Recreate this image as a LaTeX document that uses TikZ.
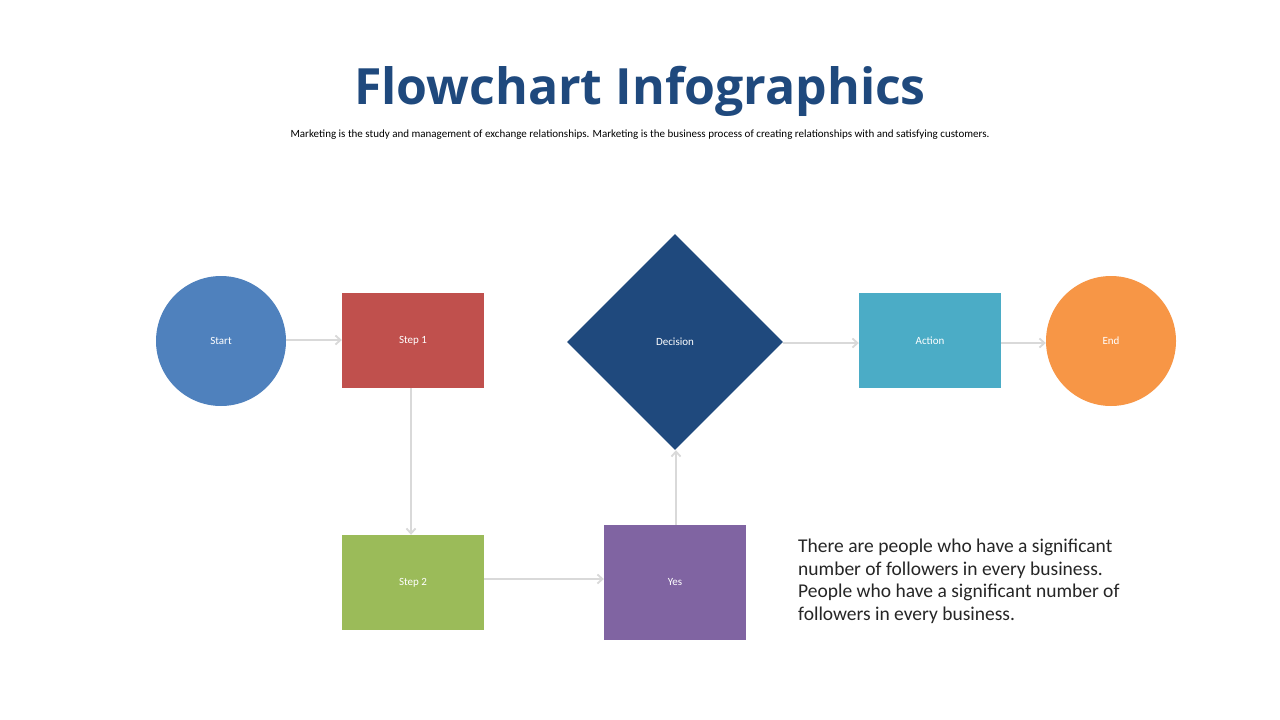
\documentclass[tikz,border=0pt]{standalone}
\usepackage{fontspec}
\setmainfont{Carlito}
\newfontfamily\titlefont{Open Sans}
\usetikzlibrary{shapes.geometric,arrows.meta}
\definecolor{cStart}{HTML}{4F81BD}
\definecolor{cStep1}{HTML}{C0504D}
\definecolor{cDec}{HTML}{1F497D}
\definecolor{cAct}{HTML}{4BACC6}
\definecolor{cEnd}{HTML}{F79646}
\definecolor{cStep2}{HTML}{9BBB59}
\definecolor{cYes}{HTML}{8064A2}
\definecolor{cLine}{HTML}{D9D9D9}
\begin{document}
\begin{tikzpicture}[x=1pt,y=-1pt,
  lbl/.style={text=white,font=\fontsize{11}{13}\selectfont},
  circ/.style={circle,minimum size=130pt,inner sep=0pt,lbl},
  box/.style={rectangle,minimum width=142pt,minimum height=95pt,inner sep=0pt,lbl},
  conn/.style={draw=cLine,line width=1.8pt,-{Straight Barb[length=5pt,width=9pt]}}]
\useasboundingbox[fill=white] (0,0) rectangle (1280,720);
\node[font=\titlefont\bfseries\fontsize{50}{56}\selectfont,text=cDec] (title) at (640,91) {Flowchart Infographics};
\node[font=\fontsize{11}{13}\selectfont] (sub) at (640,135) {Marketing is the study and management of exchange relationships. Marketing is the business process of creating relationships with and satisfying customers.};
\node[circ,fill=cStart] (start) at (221,341) {Start};
\node[box,fill=cStep1] (s1) at (413,340.5) {Step 1};
\node[diamond,fill=cDec,minimum width=216pt,minimum height=216pt,inner sep=0pt,lbl] (dec) at (675,342) {Decision};
\node[box,fill=cAct] (act) at (930,340.5) {Action};
\node[circ,fill=cEnd] (end) at (1111,341) {End};
\node[box,fill=cStep2] (s2) at (413,582.5) {Step 2};
\node[box,fill=cYes,minimum height=115pt] (yes) at (675,582.5) {Yes};
\draw[conn] (start.east |- 0,340) -- (s1.west |- 0,340);
\draw[conn] (s1.south -| 411,0) -- (s2.north -| 411,0);
\draw[conn] (s2.east |- 0,579) -- (yes.west |- 0,579);
\draw[conn] (yes.north -| 676,0) -- (dec.south -| 676,0);
\draw[conn] (dec.east |- 0,343) -- (act.west |- 0,343);
\draw[conn] (act.east |- 0,343) -- (end.west |- 0,343);
\node[anchor=north west,align=left,inner sep=0pt,font=\fontsize{19.5}{22.5}\selectfont,text=black!85] (para) at (798,539) {There are people who have a significant\\number of followers in every business.\\People who have a significant number of\\followers in every business.};
\end{tikzpicture}
\end{document}
